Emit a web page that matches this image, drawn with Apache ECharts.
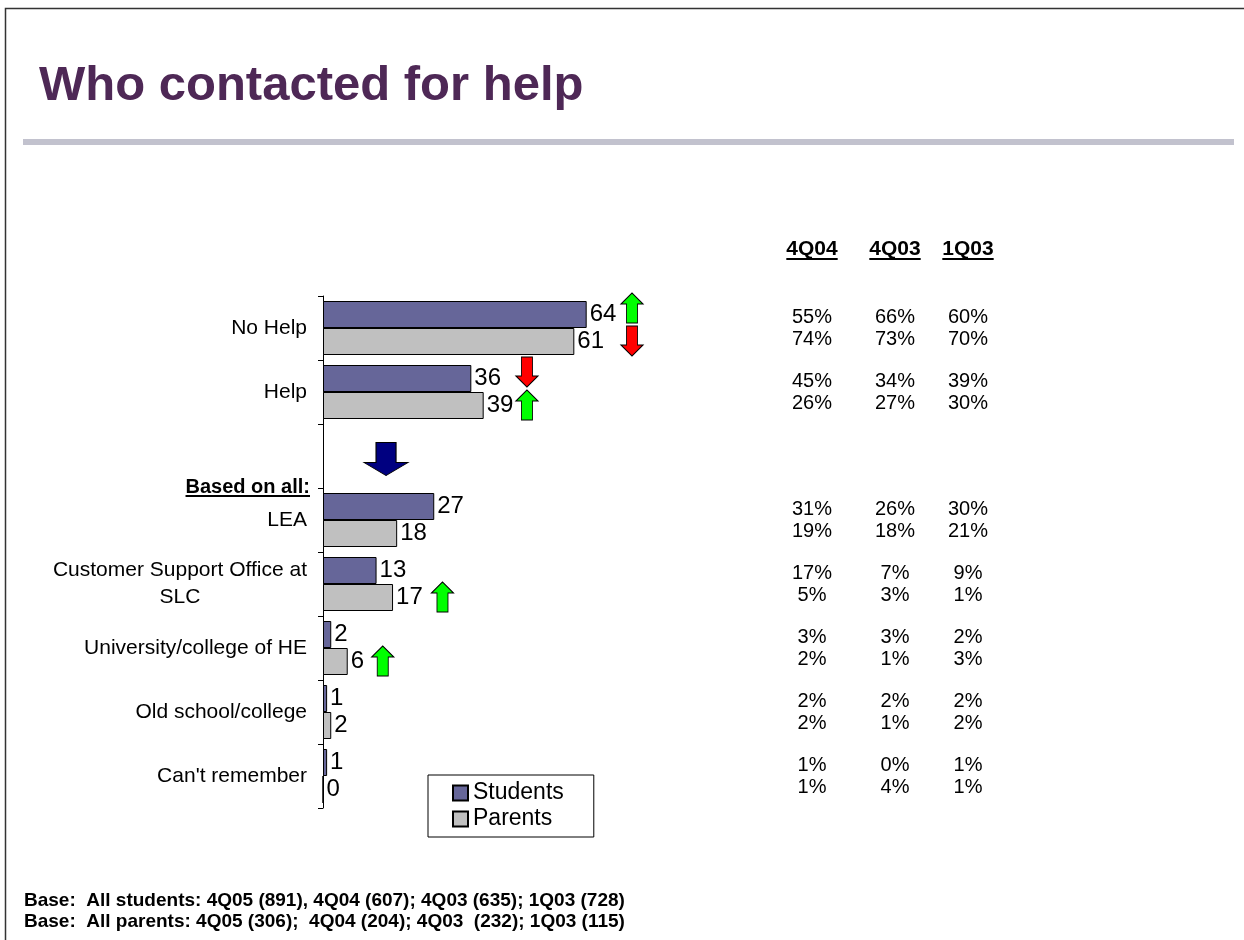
<!DOCTYPE html>
<html>
<head>
<meta charset="utf-8">
<title>Who contacted for help</title>
<script src="https://cdn.jsdelivr.net/npm/echarts@6/dist/echarts.min.js"></script>
<style>
  html, body { margin: 0; padding: 0; background: #fff; }
  #chart { width: 1244px; height: 940px; }
</style>
</head>
<body>
<div id="chart"></div>
<script>
// categories top to bottom ('' is the spacer row before "Based on all")
const categories = ['No Help', 'Help', '', 'LEA', 'Customer Support Office at\nSLC',
  'University/college of HE', 'Old school/college', "Can't remember"];
const students = [64, 36, null, 27, 13, 2, 1, 1];
const parents = [61, 39, null, 18, 17, 6, 2, 0];

// earlier waves, shown as the table on the right
const waves = ['4Q04', '4Q03', '1Q03'];
const students4Q04 = [55, 45, null, 31, 17, 3, 2, 1];
const parents4Q04 = [74, 26, null, 19, 5, 2, 2, 1];
const students4Q03 = [66, 34, null, 26, 7, 3, 2, 0];
const parents4Q03 = [73, 27, null, 18, 3, 1, 1, 4];
const students1Q03 = [60, 39, null, 30, 9, 2, 2, 1];
const parents1Q03 = [70, 30, null, 21, 1, 3, 2, 1];

// significant change arrows: category index, group, direction, x value
const changes = [
  [0, 'Students', 'up', 75],
  [0, 'Parents', 'down', 75],
  [1, 'Students', 'down', 49.5],
  [1, 'Parents', 'up', 49.5],
  [4, 'Parents', 'up', 29],
  [5, 'Parents', 'up', 14.5]
];

const footnotes = [
  'Base:  All students: 4Q05 (891), 4Q04 (607); 4Q03 (635); 1Q03 (728)',
  'Base:  All parents: 4Q05 (306);  4Q04 (204); 4Q03  (232); 1Q03 (115)'
];

const FONT = 'Liberation Sans, Arial, sans-serif';
const UP = 'path://M11,0 L22,11 L16.5,11 L16.5,30 L5.5,30 L5.5,11 L0,11 Z';
const DOWN = 'path://M5.5,0 L16.5,0 L16.5,19 L22,19 L11,30 L0,19 L5.5,19 Z';
const BIGDOWN = 'path://M12,0 L32,0 L32,20 L44,20 L22,33 L0,20 L12,20 Z';

const shift = { Students: -20, Parents: 13 };
const arrowData = changes.map(c => ({
  value: [c[3], c[0]],
  symbol: c[2] === 'up' ? UP : DOWN,
  symbolOffset: [0, shift[c[1]]],
  itemStyle: { color: c[2] === 'up' ? '#00FF00' : '#FF0000' }
}));
// navy arrow in the spacer row
arrowData.push({
  value: [15.3, 2],
  symbol: BIGDOWN,
  symbolSize: [44, 33],
  symbolOffset: [0, 3],
  itemStyle: { color: '#000080' }
});

const measure = (() => {
  const ctx = document.createElement('canvas').getContext('2d');
  return (text, font) => { ctx.font = font; return ctx.measureText(text).width; };
})();

const option = {
  animation: false,
  backgroundColor: '#fff',
  textStyle: { fontFamily: FONT },
  title: {
    text: 'Who contacted for help',
    left: 39,
    top: 62,
    padding: 0,
    textStyle: { fontSize: 49, fontWeight: 'bold', color: '#4E2856', fontFamily: FONT }
  },
  legend: {
    data: ['Students', 'Parents'],
    icon: 'rect',
    orient: 'vertical',
    left: 428,
    top: 775,
    padding: [6, 30, 6, 24],
    itemGap: 2,
    itemWidth: 15,
    itemHeight: 15,
    borderColor: '#000',
    borderWidth: 1,
    borderRadius: 0,
    textStyle: { fontSize: 23, color: '#000', fontFamily: FONT, lineHeight: 24 }
  },
  grid: { left: 323, top: 296, width: 412, height: 512, containLabel: false },
  xAxis: { type: 'value', min: 0, max: 100, show: false },
  yAxis: {
    type: 'category',
    data: categories,
    inverse: true,
    axisLine: { show: true, lineStyle: { color: '#000', width: 1 } },
    axisTick: { show: true, length: 5, lineStyle: { color: '#000', width: 1 } },
    axisLabel: {
      margin: 16,
      fontSize: 21,
      color: '#000',
      fontFamily: FONT,
      lineHeight: 27,
      formatter: v => {
        if (v.indexOf('\n') < 0) return v;
        const parts = v.split('\n');
        return '{a|' + parts[0] + '}\n{c|' + parts[1] + '}';
      },
      rich: {
        a: { fontSize: 21, lineHeight: 27, color: '#000', fontFamily: FONT },
        c: { fontSize: 21, lineHeight: 27, color: '#000', fontFamily: FONT, width: 254, align: 'center' }
      }
    }
  },
  series: [
    {
      name: 'Students',
      type: 'bar',
      data: students,
      barWidth: 27,
      barGap: '0%',
      itemStyle: { color: '#666699', borderColor: '#000', borderWidth: 1 },
      label: { show: true, position: 'right', distance: 3, fontSize: 24, color: '#000', fontFamily: FONT }
    },
    {
      name: 'Parents',
      type: 'bar',
      data: parents,
      barWidth: 27,
      barGap: '0%',
      itemStyle: { color: '#C0C0C0', borderColor: '#000', borderWidth: 1 },
      label: { show: true, position: 'right', distance: 3, fontSize: 24, color: '#000', fontFamily: FONT }
    },
    {
      name: 'changes',
      type: 'scatter',
      data: arrowData,
      symbolSize: [22, 30],
      symbolKeepAspect: false,
      itemStyle: { borderColor: '#000', borderWidth: 1, opacity: 1 },
      z: 5
    }
  ]
};

const chart = echarts.init(document.getElementById('chart'));
chart.setOption(option);

// static decorations + right-hand table
const g = [];
// slide frame
g.push({ type: 'polyline', shape: { points: [[5.5, 960], [5.5, 8.5], [1260, 8.5]] },
  style: { stroke: '#333', lineWidth: 1.5, fill: null } });
// grey rule under title
g.push({ type: 'rect', shape: { x: 23, y: 139, width: 1211, height: 6 }, style: { fill: '#C2C2CE' } });

// "Based on all:" heading at top of the LEA block
const boundaryY = (chart.convertToPixel({ yAxisIndex: 0 }, 2) + chart.convertToPixel({ yAxisIndex: 0 }, 3)) / 2;
const basedFont = 'bold 20px ' + FONT;
const basedW = measure('Based on all:', basedFont);
g.push({ type: 'text', style: { text: 'Based on all:', x: 310, y: boundaryY - 1, align: 'right', verticalAlign: 'middle',
  font: basedFont, fill: '#000' } });
g.push({ type: 'rect', shape: { x: 310 - basedW, y: boundaryY + 7, width: basedW, height: 2 }, style: { fill: '#000' } });

const colX = [812, 895, 968];
const tableStudents = [students4Q04, students4Q03, students1Q03];
const tableParents = [parents4Q04, parents4Q03, parents1Q03];
const headFont = 'bold 21px ' + FONT;
const cellFont = '20px ' + FONT;
waves.forEach((w, j) => {
  const hw = measure(w, headFont);
  g.push({ type: 'text', style: { text: w, x: colX[j], y: 249, align: 'center', verticalAlign: 'middle', font: headFont, fill: '#000' } });
  g.push({ type: 'rect', shape: { x: colX[j] - hw / 2, y: 258, width: hw, height: 2 }, style: { fill: '#000' } });
  categories.forEach((c, i) => {
    if (tableStudents[j][i] == null) return;
    const y = chart.convertToPixel({ yAxisIndex: 0 }, i);
    g.push({ type: 'text', style: { text: tableStudents[j][i] + '%', x: colX[j], y: y - 11, align: 'center', verticalAlign: 'middle', font: cellFont, fill: '#000' } });
    g.push({ type: 'text', style: { text: tableParents[j][i] + '%', x: colX[j], y: y + 11, align: 'center', verticalAlign: 'middle', font: cellFont, fill: '#000' } });
  });
});

footnotes.forEach((t, k) => {
  g.push({ type: 'text', style: { text: t, x: 24, y: 901 + k * 21, align: 'left', verticalAlign: 'middle',
    font: 'bold 19px ' + FONT, fill: '#000' } });
});

chart.setOption({ graphic: g });
</script>
</body>
</html>
